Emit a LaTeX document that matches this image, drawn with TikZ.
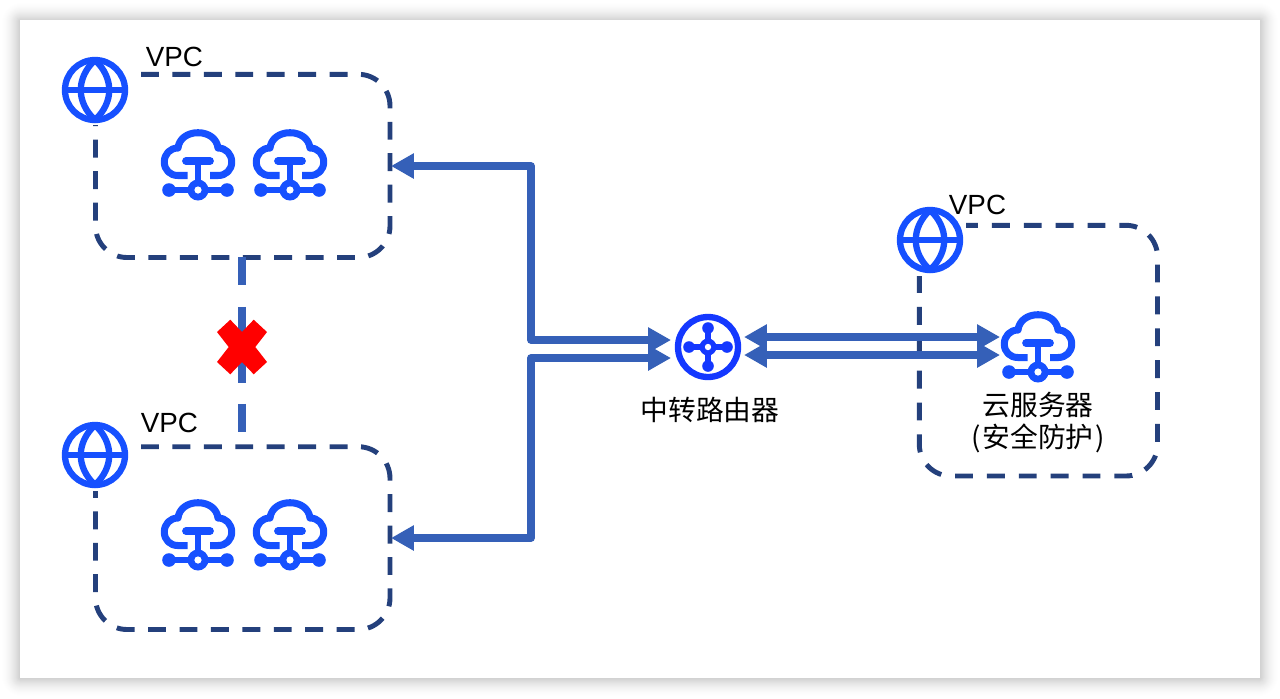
\documentclass[tikz,border=0pt]{standalone}
\usepackage{fontspec}
\setmainfont{Liberation Sans}
\newfontfamily\cjk{Noto Sans CJK SC}
\usetikzlibrary{arrows.meta}
\definecolor{boxblue}{HTML}{24407C}
\definecolor{linkblue}{HTML}{3560B8}
\definecolor{iconblue}{HTML}{1650FF}
\definecolor{routerblue}{HTML}{1438FF}
\tikzset{
	vpcbox/.style={draw=boxblue,line width=2.8pt,dash pattern=on 10.2pt off 7.69pt,rounded corners=18pt},
	link/.style={draw=linkblue,line width=4.4pt,{Triangle[length=13pt,width=13.6pt]}-{Triangle[length=13pt,width=13.6pt]}},
	vpclabel/.style={font=\fontsize{15.8}{18}\selectfont},
	cnlabel/.style={font=\cjk\fontsize{15.8}{18}\selectfont},
	globe/.pic={
		\fill[white](0,0)circle(33);
		\draw[iconblue,line width=3.6pt](0,0)circle(30);
		\draw[iconblue,line width=3.6pt](-30,0)--(30,0);
		\draw[iconblue,line width=3.6pt](0,-30)..controls(-19,-12)and(-19,12)..(0,30)..controls(19,12)and(19,-12)..(0,-30);
	},
	cloud/.pic={
		\draw[iconblue,line width=4pt](-10.5,-14.5)--(-20,-14.5)..controls(-28,-14.5)and(-33.7,-20)..(-33.7,-28)
			..controls(-33.7,-36)and(-28,-42)..(-20,-42)..controls(-19,-51)and(-11,-57.3)..(0,-57.3)
			..controls(11,-57.3)and(19,-51)..(20,-42)..controls(28,-42)and(33.7,-36)..(33.7,-28)
			..controls(33.7,-20)and(28,-14.5)..(20,-14.5)--(12,-14.5);
		\draw[iconblue,line width=4.4pt,line cap=round](-12,-29)--(12,-29);
		\draw[iconblue,line width=3.6pt](0,-29)--(0,-8);
		\draw[iconblue,line width=3pt](-29,0)--(29,0);
		\fill[iconblue](-29,0)circle(6.8)(29,0)circle(6.8)(0,0)circle(10.5);
		\fill[white](0,0)circle(3.6);
	},
	router/.pic={
		\draw[routerblue,line width=3.6pt](0,0)circle(30);
		\draw[routerblue,line width=3.6pt](-19,0)--(19,0)(0,-19)--(0,19);
		\fill[routerblue](-19,0)circle(5.8)(19,0)circle(5.8)(0,-19)circle(5.8)(0,19)circle(5.8)(0,0)circle(8.5);
		\fill[white](0,0)circle(3.2);
	}
}
\begin{document}
\begin{tikzpicture}[x=0.02cm,y=-0.02cm,line join=round]
	\useasboundingbox(0,0)rectangle(1280,698);
	\fill[white](0,0)rectangle(1280,698);
	% soft edge round the card
	\foreach \i [evaluate=\i as \op using .018*(1-\i/21)] in {1,...,20}
		\fill[black,opacity=\op,rounded corners=\i*0.6pt](20-\i,21-\i)rectangle(1260+\i,678+\i);
	\fill[white](20,20)rectangle(1260,678);
	\path
		(95,90)coordinate(G1)
		(95,455)coordinate(G2)
		(930,240)coordinate(G3)
		(198,190)coordinate(C1)
		(290,190)coordinate(C2)
		(198,560)coordinate(C3)
		(290,560)coordinate(C4)
		(1038,372)coordinate(C5)
		(708,347)coordinate(R)
		(391,166)coordinate(A)
		(391,538)coordinate(B)
		(671,340)coordinate(R1)
		(671,358)coordinate(R2)
		(531,340)coordinate(M1)
		(531,166)coordinate(M2)
		(531,358)coordinate(M3)
		(531,538)coordinate(M4)
		(744,337)coordinate(L1)
		(744,355)coordinate(L2)
		(1000,337)coordinate(S1)
		(1000,355)coordinate(S2)
		(242,257)coordinate(X1)
		(242,432)coordinate(X2)
		(242,347)coordinate(X)
		(174.5,57)node[vpclabel](vpcA){VPC}
		(169.5,423)node[vpclabel](vpcB){VPC}
		(977.5,205)node[vpclabel](vpcC){VPC}
		(710,410)node[cnlabel](cnR){中转路由器}
		(1038,405)node[cnlabel](cnS){云服务器}
		(1038,438)node[cnlabel](cnT){(\kern1pt 安全防护\kern1pt )}
		;
	% dashed areas
	\draw[vpcbox](141,74.3)--(390,74.3)--(390,257.5)--(95.5,257.5)--(95.5,125);
	\draw[vpcbox](141,446.7)--(390,446.7)--(390,629.5)--(95.5,629.5)--(95.5,491);
	\draw[vpcbox,dash pattern=on 10.2pt off 7.94pt,dash phase=3.4pt](966,225.3)--(1157.5,225.3)--(1157.5,476)--(919.3,476)--(919.3,276);
	% broken link
	\draw[linkblue,line width=4pt,dash pattern=on 15.9pt off 12.5pt on 43.2pt off 12pt on 15.9pt](X1)--(X2);
	\fill[red](X)++(-11.7,-27.3)--++(11.7,12.3)--++(11.7,-12.3)--++(13.3,12.3)--++(-11.7,15)--++(11.7,15)--++(-13.3,12.3)--++(-11.7,-12.3)--++(-11.7,12.3)--++(-13.3,-12.3)--++(11.7,-15)--++(-11.7,-15)--cycle;
	% links through the router
	\draw[link](A)--(M2)--(M1)--(R1);
	\draw[link](B)--(M4)--(M3)--(R2);
	\draw[link](L1)--(S1);
	\draw[link](L2)--(S2);
	\path(G1)pic{globe}(G2)pic{globe}(G3)pic{globe};
	\path(C1)pic{cloud}(C2)pic{cloud}(C3)pic{cloud}(C4)pic{cloud}(C5)pic{cloud};
	\path(R)pic{router};
\end{tikzpicture}
\end{document}
